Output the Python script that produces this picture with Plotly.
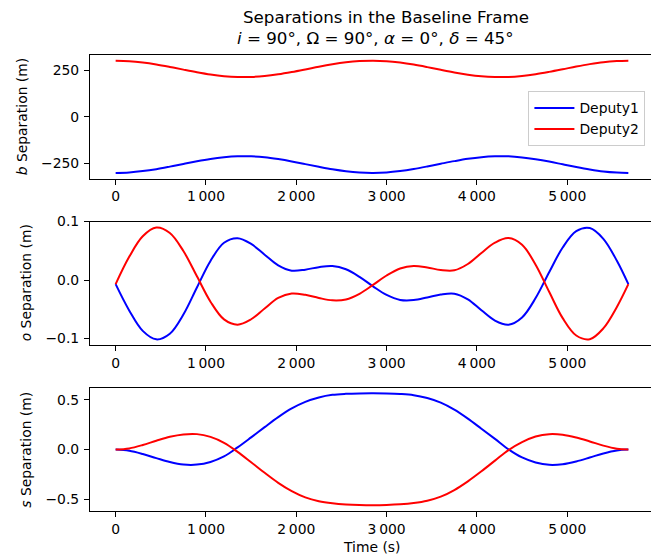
import plotly.graph_objects as go

# ---------------- data ----------------
time_s = [0, 150, 300, 450, 600, 750, 900, 1050, 1200, 1350, 1500, 1650, 1800, 1950,
          2100, 2250, 2400, 2550, 2700, 2850, 3000, 3150, 3300, 3450, 3600, 3750,
          3900, 4050, 4200, 4350, 4500, 4650, 4800, 4950, 5100, 5250, 5400, 5550, 5677]

b_deputy1 = [-301, -298.5, -291.5, -281, -267.5, -253, -238.5, -226, -217, -212, -212,
             -217, -227, -239.5, -254, -268.5, -282, -292.5, -299, -301, -298.5, -291,
             -280, -266.5, -252, -238, -225.5, -216.5, -212, -212, -218, -228, -240.5,
             -255, -269.5, -282.5, -293, -299, -301]
b_deputy2 = [301, 298.6, 291.6, 281, 267.6, 253, 239, 226.8, 218, 213.5, 213.7, 218.6,
             227.7, 240, 254, 268.7, 281.9, 292.5, 299, 301, 298.5, 291, 280, 266.5, 252,
             238, 226, 217.5, 213.5, 213.5, 219, 228.5, 241, 255, 269.5, 282.5, 293, 299, 301]

o_deputy1 = [-0.007, -0.052, -0.087, -0.1015, -0.0918, -0.059, -0.0127, 0.0327, 0.0638,
             0.0715, 0.0618, 0.0433, 0.0251, 0.016, 0.0178, 0.0221, 0.024, 0.0184, 0.0055,
             -0.0108, -0.0255, -0.034, -0.0343, -0.0298, -0.0247, -0.0233, -0.033, -0.0517,
             -0.0693, -0.0764, -0.064, -0.0309, 0.0134, 0.0557, 0.0836, 0.089, 0.0706, 0.033,
             -0.007]
o_deputy2 = [-0.007, 0.0397, 0.0749, 0.0898, 0.0806, 0.0497, 0.0064, -0.037, -0.0673,
             -0.0763, -0.0671, -0.0486, -0.0307, -0.023, -0.0253, -0.0307, -0.0347, -0.0332,
             -0.0235, -0.0083, 0.0078, 0.0198, 0.0241, 0.0215, 0.0172, 0.0167, 0.0275, 0.0464,
             0.064, 0.0718, 0.0603, 0.0263, -0.0201, -0.0652, -0.0949, -0.1012, -0.0827,
             -0.046, -0.007]

s_deputy1 = [0, -0.012, -0.044, -0.085, -0.124, -0.149, -0.150, -0.123, -0.068, 0.022,
             0.122, 0.225, 0.325, 0.412, 0.478, 0.522, 0.548, 0.558, 0.562, 0.563, 0.5614,
             0.5565, 0.545, 0.516, 0.470, 0.400, 0.310, 0.209, 0.107, 0.003, -0.078, -0.128,
             -0.152, -0.146, -0.118, -0.079, -0.038, -0.0085, 0]
s_deputy2 = [0, 0.012, 0.046, 0.089, 0.128, 0.152, 0.155, 0.127, 0.068, -0.022, -0.126,
             -0.232, -0.332, -0.415, -0.478, -0.516, -0.537, -0.549, -0.555, -0.557, -0.554,
             -0.547, -0.534, -0.511, -0.470, -0.404, -0.317, -0.217, -0.110, -0.005, 0.075,
             0.131, 0.155, 0.149, 0.121, 0.082, 0.040, 0.009, 0]

x_tick_vals = [0, 1000, 2000, 3000, 4000, 5000]
x_tick_text = ["0", "1\u2009000", "2\u2009000", "3\u2009000", "4\u2009000", "5\u2009000"]
b_tick_vals = [-250, 0, 250]
b_tick_text = ["\u2212250", "0", "250"]
o_tick_vals = [-0.1, 0.0, 0.1]
o_tick_text = ["\u22120.1", "0.0", "0.1"]
s_tick_vals = [-0.5, 0.0, 0.5]
s_tick_text = ["\u22120.5", "0.0", "0.5"]

series_names = ["Deputy1", "Deputy2"]
colors = ["#0000ff", "#ff0000"]

# ---------------- layout geometry (page pixels; the page body adds an 8px offset) ----------------
OFF = 8
W, H = 659 - OFF, 560 - OFF
BOX_L, BOX_R, BOX_T, BOX_B = 90.0, 654.3, 55.3, 510.7
ML = BOX_L - OFF
MR = W - (BOX_R - OFF)
MT = BOX_T - OFF
MB = H - (BOX_B - OFF)
PW, PH = W - ML - MR, H - MT - MB


def px_x(p):
    return (p - BOX_L) / PW


def px_y(p):
    return (BOX_B - p) / PH


FONT = "DejaVu Sans"
TICK_PX = 13.9
TITLE_PX = 16.7

fig = go.Figure()

panels = [
    (b_deputy1, b_deputy2, ""),
    (o_deputy1, o_deputy2, "2"),
    (s_deputy1, s_deputy2, "3"),
]
for i, (d1, d2, suf) in enumerate(panels):
    for j, d in enumerate([d1, d2]):
        fig.add_trace(go.Scatter(
            x=time_s, y=d, mode="lines", name=series_names[j],
            line=dict(color=colors[j], width=2, shape="spline", smoothing=1.0),
            xaxis="x" + suf, yaxis="y" + suf, showlegend=(i == 0),
        ))

xrange = [-284, 5961]
domains = [
    (px_y(178.7), px_y(55.3)),
    (px_y(345.0), px_y(221.7)),
    (px_y(510.7), px_y(387.7)),
]
yranges = [[-331.5, 331.5], [-0.1113, 0.1], [-0.614, 0.618]]
yticks = [(b_tick_vals, b_tick_text), (o_tick_vals, o_tick_text), (s_tick_vals, s_tick_text)]

axis_common = dict(
    showline=True, linecolor="black", linewidth=1.1, mirror=True,
    ticks="outside", ticklen=5, tickwidth=1.1, tickcolor="black",
    showgrid=False, zeroline=False,
    tickfont=dict(family=FONT, size=TICK_PX, color="black"),
)

layout = dict(
    width=W, height=H,
    margin=dict(l=ML, r=MR, t=MT, b=MB, pad=0),
    paper_bgcolor="white", plot_bgcolor="white",
    font=dict(family=FONT, size=TICK_PX, color="black"),
    showlegend=True,
    legend=dict(
        x=px_x(645.7), y=px_y(91.7), xanchor="right", yanchor="top",
        bgcolor="rgba(255,255,255,0.8)", bordercolor="#cccccc", borderwidth=1,
        itemwidth=40,
        font=dict(family=FONT, size=TICK_PX, color="black"),
    ),
)
for i in range(3):
    suf = "" if i == 0 else str(i + 1)
    layout["xaxis" + suf] = dict(
        axis_common, domain=[0, 1], range=xrange, anchor="y" + suf,
        tickvals=x_tick_vals, ticktext=x_tick_text,
    )
    layout["yaxis" + suf] = dict(
        axis_common, domain=list(domains[i]), range=yranges[i], anchor="x" + suf,
        tickvals=yticks[i][0], ticktext=yticks[i][1], ticklabelstandoff=2,
    )
fig.update_layout(**layout)

annotations = [
    dict(text="Separations in the Baseline Frame", x=px_x(386), y=px_y(17), size=TITLE_PX, angle=0),
    dict(text="<i>i</i> = 90°, Ω = 90°, <i>α</i> = 0°, <i>δ</i> = 45°", x=px_x(375.5), y=px_y(38), size=TITLE_PX, angle=0),
    dict(text="<i>b</i> Separation (m)", x=px_x(21.5), y=px_y(117), size=TICK_PX, angle=-90),
    dict(text="<i>o</i> Separation (m)", x=px_x(26), y=px_y(283.3), size=TICK_PX, angle=-90),
    dict(text="<i>s</i> Separation (m)", x=px_x(26.3), y=px_y(449.2), size=TICK_PX, angle=-90),
    dict(text="Time (s)", x=px_x(372), y=px_y(547), size=TICK_PX, angle=0),
]
for a in annotations:
    fig.add_annotation(
        text=a["text"], x=a["x"], y=a["y"], xref="paper", yref="paper",
        xanchor="center", yanchor="middle", showarrow=False, textangle=a["angle"],
        font=dict(family=FONT, size=a["size"], color="black"),
    )

fig.write_html("out.html")
